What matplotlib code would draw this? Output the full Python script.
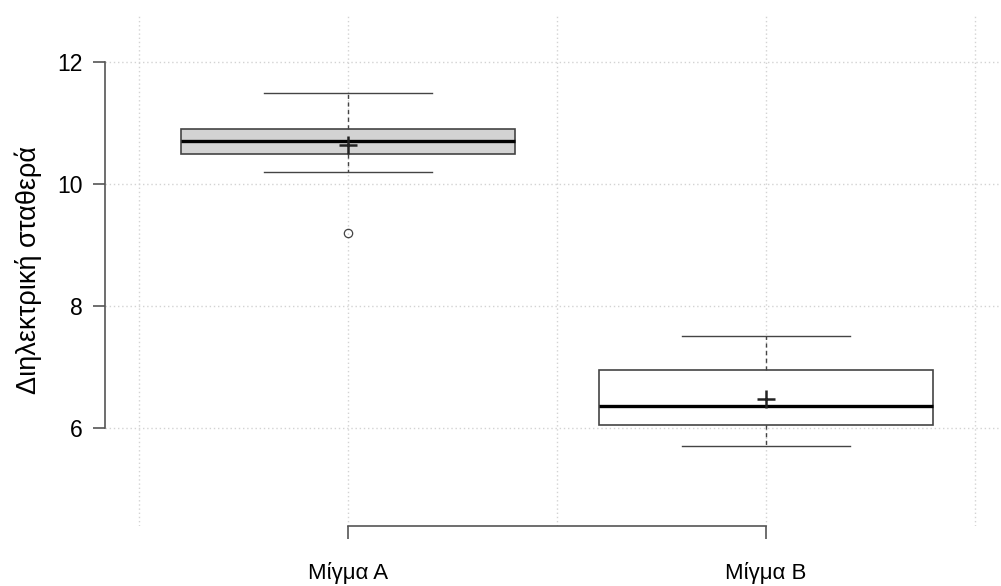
import matplotlib
matplotlib.use("Agg")
import matplotlib.pyplot as plt

# ---- data ----
groups = ["Μίγμα A", "Μίγμα B"]
q1 = [10.5, 6.05]
medians = [10.7, 6.36]
q3 = [10.9, 6.95]
whisk_lo = [10.2, 5.7]
whisk_hi = [11.5, 7.5]
means = [10.64, 6.48]
outliers = [[9.2], []]
box_fill = ["#d3d3d3", "white"]

y_ticks = [6, 8, 10, 12]
x_grid = [0.5, 1.5, 2.5]

plt.rcParams["font.family"] = ["Liberation Sans", "DejaVu Sans"]

fig = plt.figure(figsize=(10.01, 5.86), dpi=100)
# axes region in pixels: left 105, right 1001, top 14, bottom 526
ax = fig.add_axes([105 / 1001, 60 / 586, 896 / 1001, 512 / 586])

positions = list(range(1, len(groups) + 1))

# dotted grid first so the boxes sit on top
for g in x_grid + positions:
    ax.axvline(g, color="#d3d3d3", lw=1, ls=(0, (1, 2)), zorder=0)
for t in y_ticks:
    ax.axhline(t, color="#d3d3d3", lw=1, ls=(0, (1, 2)), zorder=0)

stats = []
for i in range(len(groups)):
    stats.append(dict(med=medians[i], q1=q1[i], q3=q3[i],
                      whislo=whisk_lo[i], whishi=whisk_hi[i],
                      fliers=outliers[i], label=groups[i]))

bp = ax.bxp(stats, positions=positions, widths=0.8, patch_artist=True,
            showfliers=True, capwidths=0.4,
            boxprops=dict(edgecolor="#444444", linewidth=1.2),
            medianprops=dict(color="black", linewidth=2.4),
            whiskerprops=dict(color="#444444", linewidth=1.0, linestyle=(0, (3, 2.5))),
            capprops=dict(color="#444444", linewidth=1.0),
            flierprops=dict(marker="o", markersize=6, markerfacecolor="none",
                            markeredgecolor="#444444", markeredgewidth=0.9))
for patch, c in zip(bp["boxes"], box_fill):
    patch.set_facecolor(c)

ax.plot(positions, means, ls="none", marker="+", markersize=13,
        markeredgewidth=1.8, color="#222222", zorder=5)

ax.set_xlim(0.419, 2.562)
ax.set_ylim(4.39, 12.79)

# R-style detached axes
for side in ["top", "right"]:
    ax.spines[side].set_visible(False)
ax.spines["left"].set_bounds(y_ticks[0], y_ticks[-1])
ax.spines["bottom"].set_bounds(positions[0], positions[-1])
for side in ["left", "bottom"]:
    ax.spines[side].set_color("#555555")
    ax.spines[side].set_linewidth(1.2)

ax.set_yticks(y_ticks)
ax.set_yticklabels([str(t) for t in y_ticks])
ax.set_xticks(positions)
ax.set_xticklabels(groups)
ax.tick_params(axis="y", length=9, width=1.2, color="#555555", pad=7, labelsize=16.5)
ax.tick_params(axis="x", length=9, width=1.2, color="#555555", pad=17, labelsize=16)

ax.set_ylabel("Διηλεκτρική σταθερά", fontsize=19.5)
ax.yaxis.set_label_coords(-63 / 896, 0.5)

fig.savefig("out.png", dpi=100)
